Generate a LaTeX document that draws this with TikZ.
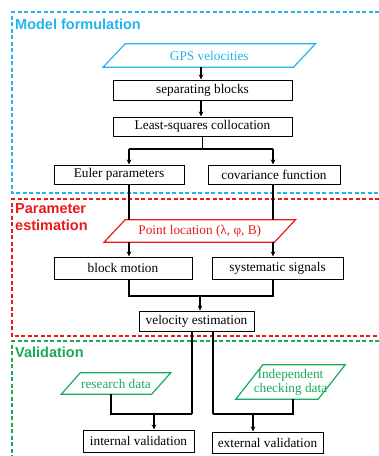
\documentclass[tikz,border=0pt]{standalone}
\usepackage{fontspec}
\setmainfont{Liberation Serif}
\newfontfamily\titlefont{Liberation Sans}
\usetikzlibrary{arrows.meta,calc}
\definecolor{mcyan}{RGB}{35,180,235}
\definecolor{mred}{RGB}{235,25,25}
\definecolor{mgreen}{RGB}{25,170,90}
\tikzset{
  box/.style={draw=black, line width=1pt, inner sep=0pt, font=\fontsize{13.3}{15}\selectfont},
  ptext/.style={inner sep=0pt, align=center, font=\fontsize{13.3}{14}\selectfont},
  conn/.style={line width=1.2pt},
  arr/.style={line width=1.2pt, -{Stealth[length=5pt,width=4.5pt]}},
  frame/.style={line width=1.2pt, dash pattern=on 4pt off 2.5pt},
  ttl/.style={anchor=west, inner sep=0pt, align=left, font=\titlefont\bfseries\fontsize{14.5}{16.5}\selectfont}
}
\begin{document}
\begin{tikzpicture}[x=1pt,y=-1pt]
\useasboundingbox (0,0) rectangle (379,456);
% frames
\draw[frame, mcyan] (379,12) -- (12,12) -- (12,193) -- (379,193);
\draw[frame, mred] (379,199) -- (12,199) -- (12,336) -- (379,336);
\draw[frame, mgreen] (379,341) -- (12,341) -- (12,456);
\node[ttl, text=mcyan] (t1) at (15,24) {Model formulation};
\node[ttl, text=mred] (t2) at (15,217) {Parameter\\estimation};
\node[ttl, text=mgreen] (t3) at (15,352) {Validation};
% GPS
\node[ptext, text=mcyan, minimum width=190, minimum height=23] (gps) at (209.3,55.5) {GPS velocities};
\draw[mcyan, line width=1.2pt] ($(gps.south west)+(-11,0)$) -- ($(gps.south east)+(-11,0)$) -- ($(gps.north east)+(11,0)$) -- ($(gps.north west)+(11,0)$) -- cycle;
\node[box, minimum width=179, minimum height=20] (sep) at (202.5,90) {separating blocks};
\node[box, minimum width=179, minimum height=19] (lsc) at (202.5,126.5) {Least-squares collocation};
\node[box, minimum width=130, minimum height=19] (euler) at (119,174.5) {Euler parameters};
\node[box, minimum width=132, minimum height=19] (cov) at (274,174.5) {covariance function};
% point location
\node[ptext, text=mred, minimum width=170, minimum height=22] (pl) at (199.8,231) {Point location (λ, φ, B)};
\draw[mred, line width=1.2pt] ($(pl.south west)+(-10.5,0)$) -- ($(pl.south east)+(-10.5,0)$) -- ($(pl.north east)+(10.5,0)$) -- ($(pl.north west)+(10.5,0)$) -- cycle;
\node[box, minimum width=138, minimum height=22] (bm) at (123,268) {block motion};
\node[box, minimum width=131, minimum height=22] (sys) at (277.5,268) {systematic signals};
\node[box, minimum width=115, minimum height=20] (ve) at (196.5,321) {velocity estimation};
% validation
\node[ptext, text=mgreen, minimum width=90, minimum height=21] (rd) at (116,383.5) {research data};
\draw[mgreen, line width=1.2pt] ($(rd.south west)+(-9.5,0)$) -- ($(rd.south east)+(-9.5,0)$) -- ($(rd.north east)+(9.5,0)$) -- ($(rd.north west)+(9.5,0)$) -- cycle;
\node[ptext, text=mgreen, minimum width=82, minimum height=34] (icd) at (290.5,382) {Independent\\checking data};
\draw[mgreen, line width=1.2pt] ($(icd.south west)+(-13.5,0)$) -- ($(icd.south east)+(-13.5,0)$) -- ($(icd.north east)+(13.5,0)$) -- ($(icd.north west)+(13.5,0)$) -- cycle;
\node[box, minimum width=111, minimum height=22] (iv) at (138.5,441) {internal validation};
\node[box, minimum width=111, minimum height=21] (ev) at (267.5,442.5) {external validation};
% connectors
\coordinate (a1) at (201,90);
\draw[arr] (gps.south -| a1) -- (sep.north -| a1);
\draw[arr] (sep.south -| a1) -- (lsc.north -| a1);
\coordinate (jL) at (129,149);
\coordinate (jR) at (273,149);
\draw[conn] (lsc.south) -- (lsc.south |- jL);
\draw[conn] (jL) -- (jR);
\draw[arr] (jL) -- (jL |- euler.north);
\draw[arr] (jR) -- (jR |- cov.north);
\draw[conn] (euler.south -| jL) -- (pl.north -| jL);
\draw[conn] (cov.south -| jR) -- (pl.north -| jR);
\draw[arr] (pl.south -| jL) -- (bm.north -| jL);
\draw[arr] (pl.south -| jR) -- (sys.north -| jR);
\coordinate (kL) at (129,296);
\coordinate (kR) at (273,296);
\coordinate (kM) at (200,296);
\draw[conn] (bm.south -| kL) -- (kL) -- (kR) -- (sys.south -| kR);
\draw[arr] (kM) -- (ve.north -| kM);
\coordinate (vL) at (192,414);
\coordinate (vR) at (213,414);
\coordinate (rL) at (111,414);
\coordinate (rR) at (293,414);
\coordinate (mL) at (154,414);
\coordinate (mR) at (253,414);
\draw[conn, line width=1.7pt] (ve.south -| vL) -- (vL);
\draw[conn] (ve.south -| vR) -- (vR);
\draw[conn] (rd.south -| rL) -- (rL) -- (vL);
\draw[conn] (icd.south -| rR) -- (rR) -- (vR);
\draw[arr] (mL) -- (iv.north -| mL);
\draw[arr] (mR) -- (ev.north -| mR);
\end{tikzpicture}
\end{document}
